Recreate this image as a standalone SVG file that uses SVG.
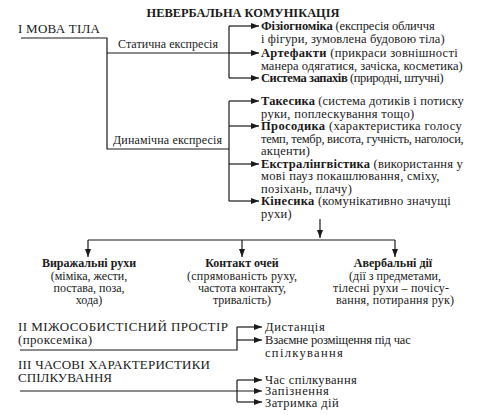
<svg xmlns="http://www.w3.org/2000/svg" width="479" height="415" viewBox="0 0 479 415" font-family="'Liberation Serif', 'DejaVu Serif', serif">
<defs>
<marker id="ah" markerUnits="userSpaceOnUse" markerWidth="9" markerHeight="7" refX="8" refY="3" orient="auto">
<path d="M0,0 L8,3 L0,6 z" fill="#1a1a1a"/>
</marker>
<style>
text{font-family:'Liberation Serif','DejaVu Serif',serif;fill:#1a1a1a;font-size:12px}
.r{font-size:12.5px;letter-spacing:0.3px}
.b{font-weight:bold}
.h{font-size:13px}
.t{font-size:12.4px;font-weight:bold}
.c{text-anchor:middle}
.ln{fill:none;stroke:#1a1a1a;stroke-width:1.2}
.ar{fill:none;stroke:#1a1a1a;stroke-width:1.2;marker-end:url(#ah)}
</style>
</defs>
<rect width="479" height="415" fill="#fff"/>
<g id="title"><text class="t c" x="243" y="17">НЕВЕРБАЛЬНА КОМУНІКАЦІЯ</text></g>
<g id="connectors">
<path class="ln" d="M21,38 H107 V149 H229"/>
<path class="ln" d="M107,53 H229"/>
<path class="ln" d="M229,26 V78"/>
<path class="ar" d="M229,26 H259"/>
<path class="ar" d="M229,53 H259"/>
<path class="ar" d="M229,78 H259"/>
<path class="ln" d="M229,101 V201"/>
<path class="ar" d="M229,101 H259"/>
<path class="ar" d="M229,126 H259"/>
<path class="ar" d="M229,164 H259"/>
<path class="ar" d="M229,201 H259"/>
<path class="ar" d="M320,219 V238"/>
<path class="ln" d="M88,240 H395"/>
<path class="ar" d="M88,240 V257"/>
<path class="ar" d="M242,240 V257"/>
<path class="ar" d="M395,240 V257"/>
<path class="ln" d="M20,350 H237 V327"/>
<path class="ar" d="M237,327 H262"/>
<path class="ar" d="M237,340 H262"/>
<path class="ln" d="M237,380 V402"/>
<path class="ar" d="M20,391 H262"/>
<path class="ar" d="M237,380 H262"/>
<path class="ar" d="M237,402 H262"/>
</g>
<g id="mova-tila"><text class="h" x="18" y="33" textLength="82" lengthAdjust="spacing">І  МОВА ТІЛА</text></g>
<g id="static"><text x="118" y="48" textLength="100" lengthAdjust="spacing">Статична експресія</text></g>
<g id="dynamic"><text x="113" y="144" textLength="109" lengthAdjust="spacing">Динамічна експресія</text></g>
<g id="fizio"><text class="r" x="261" y="30" textLength="174" lengthAdjust="spacing"><tspan class="b">Фізіогноміка</tspan> (експресія обличчя</text><text class="r" x="261" y="42.5" textLength="184" lengthAdjust="spacing">і фігури, зумовлена будовою тіла)</text></g>
<g id="artefakty"><text class="r" x="261" y="57" textLength="197" lengthAdjust="spacing"><tspan class="b">Артефакти</tspan> (прикраси зовнішності</text><text class="r" x="261" y="69.5" textLength="202" lengthAdjust="spacing">манера одягатися, зачіска, косметика)</text></g>
<g id="zapakhy"><text class="r" x="261" y="82" textLength="183" lengthAdjust="spacing"><tspan class="b">Система запахів</tspan> (природні, штучні)</text></g>
<g id="takesyka"><text class="r" x="261" y="105" textLength="203" lengthAdjust="spacing"><tspan class="b">Такесика</tspan> (система дотиків і потиску</text><text class="r" x="261" y="117.5">руки, поплескування тощо)</text></g>
<g id="prosodyka"><text class="r" x="261" y="130" textLength="201" lengthAdjust="spacing"><tspan class="b">Просодика</tspan> (характеристика голосу</text><text class="r" x="261" y="142.5" textLength="203" lengthAdjust="spacing">темп, тембр, висота, гучність, наголоси,</text><text class="r" x="261" y="155">акценти)</text></g>
<g id="ekstra"><text class="r" x="261" y="167.5" textLength="202" lengthAdjust="spacing"><tspan class="b">Екстралінгвістика</tspan> (використання у</text><text class="r" x="261" y="180">мові пауз  покашлювання, сміху,</text><text class="r" x="261" y="192.5">позіхань, плачу)</text></g>
<g id="kinesyka"><text class="r" x="261" y="205" textLength="190" lengthAdjust="spacing"><tspan class="b">Кінесика</tspan> (комунікативно значущі</text><text class="r" x="261" y="217.5">рухи)</text></g>
<g id="vyrazh"><text class="b c" x="89" y="267">Виражальні  рухи</text><text class="c" x="89" y="280">(міміка, жести,</text><text class="c" x="89" y="292">постава, поза,</text><text class="c" x="89" y="304">хода)</text></g>
<g id="kontakt"><text class="b c" x="242" y="267">Контакт очей</text><text class="c" x="242" y="280" textLength="110" lengthAdjust="spacing">(спрямованість руху,</text><text class="c" x="242" y="292">частота контакту,</text><text class="c" x="242" y="304">тривалість)</text></g>
<g id="averb"><text class="b c" x="393" y="267">Авербальні дії</text><text class="c" x="395" y="280">(дії з предметами,</text><text class="c" x="391" y="292" textLength="116" lengthAdjust="spacing">тілесні рухи  –  почісу-</text><text class="c" x="395" y="304" textLength="118" lengthAdjust="spacing">вання, потирання рук)</text></g>
<g id="prostir"><text class="h" x="18" y="331" textLength="210" lengthAdjust="spacing">ІІ  МІЖОСОБИСТІСНИЙ ПРОСТІР</text><text class="h" x="18" y="344" textLength="74" lengthAdjust="spacing">(проксеміка)</text></g>
<g id="dystantsiia"><text class="r" x="265" y="331" textLength="60" lengthAdjust="spacing">Дистанція</text></g>
<g id="rozmishch"><text class="r" x="265" y="344" textLength="146" lengthAdjust="spacing">Взаємне розміщення під час</text><text class="r" x="265" y="357" textLength="78" lengthAdjust="spacing">спілкування</text></g>
<g id="chasovi"><text class="h" x="18" y="369" textLength="192" lengthAdjust="spacing">ІІІ  ЧАСОВІ ХАРАКТЕРИСТИКИ</text><text class="h" x="18" y="382" textLength="94" lengthAdjust="spacing">СПІЛКУВАННЯ</text></g>
<g id="chas"><text class="r" x="265" y="384" textLength="92" lengthAdjust="spacing">Час спілкування</text></g>
<g id="zapiznennia"><text class="r" x="265" y="395" textLength="64" lengthAdjust="spacing">Запізнення</text></g>
<g id="zatrymka"><text class="r" x="265" y="407" textLength="74" lengthAdjust="spacing">Затримка дій</text></g>
</svg>
